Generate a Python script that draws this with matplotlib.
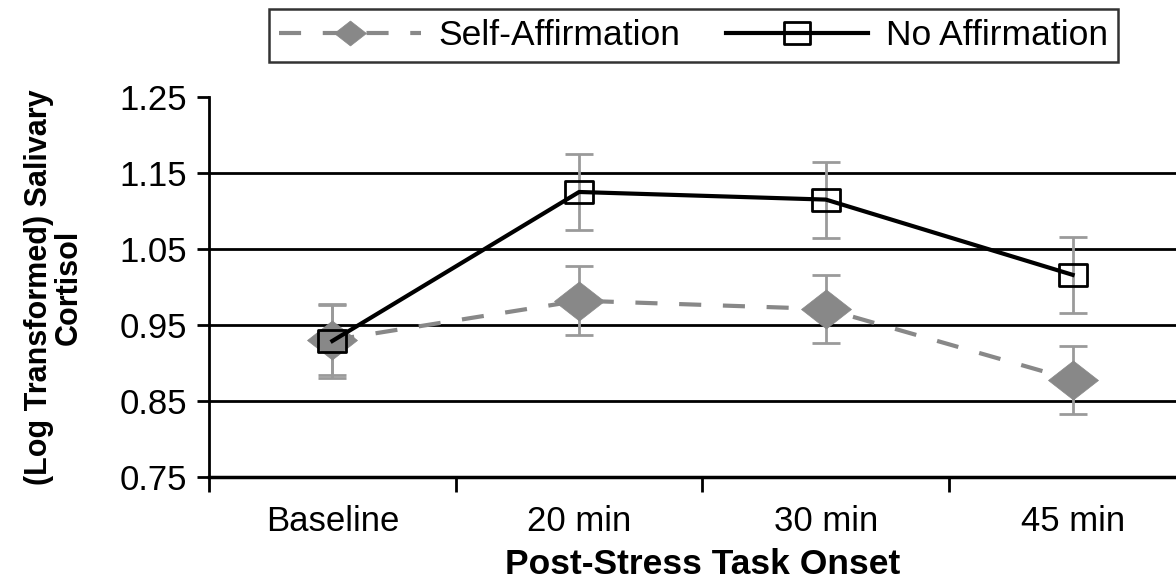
import matplotlib
matplotlib.use("Agg")
import matplotlib.pyplot as plt
import numpy as np
from matplotlib.path import Path

plt.rcParams['font.family'] = ['Liberation Sans', 'DejaVu Sans']

# data
times = ["Baseline", "20 min", "30 min", "45 min"]
self_aff = [0.930, 0.982, 0.971, 0.878]
self_err = [0.046, 0.045, 0.045, 0.045]
no_aff = [0.929, 1.125, 1.115, 1.016]
no_err = [0.049, 0.050, 0.050, 0.050]
yticks = [0.75, 0.85, 0.95, 1.05, 1.15, 1.25]
grid_y = [0.85, 0.95, 1.05, 1.15]

# the original image is a bit wide, so markers are slightly squashed
diamond = Path([(-1, 0), (0, 0.78), (1, 0), (0, -0.78), (-1, 0)],
               [Path.MOVETO, Path.LINETO, Path.LINETO, Path.LINETO, Path.CLOSEPOLY])
box = Path([(-1, -0.8), (1, -0.8), (1, 0.8), (-1, 0.8), (-1, -0.8)],
           [Path.MOVETO, Path.LINETO, Path.LINETO, Path.LINETO, Path.CLOSEPOLY])

fig = plt.figure(figsize=(11.76, 5.86), dpi=100)
ax = fig.add_axes([0.1777, 0.186, 0.8393, 0.6485])

x = np.arange(len(times))

for g in grid_y:
    ax.axhline(g, color="black", lw=2, zorder=1)

ax.errorbar(x, self_aff, yerr=self_err, fmt="none", ecolor="#9a9a9a",
            elinewidth=2, capsize=10, capthick=2, zorder=2)
ax.errorbar(x, no_aff, yerr=no_err, fmt="none", ecolor="#9a9a9a",
            elinewidth=2, capsize=10, capthick=2, zorder=2)

ax.plot(x, self_aff, color="#888888", lw=3, dashes=(5.3, 5.2),
        marker=diamond, markersize=36, markerfacecolor="#888888",
        markeredgecolor="#888888", markeredgewidth=0.5, zorder=3,
        label="Self-Affirmation")
ax.plot(x, no_aff, color="black", lw=3, marker=box, markersize=20,
        markerfacecolor="none", markeredgecolor="black", markeredgewidth=2,
        zorder=4, label="No Affirmation")

ax.set_ylim(0.75, 1.25)
ax.set_yticks(yticks)
ax.set_yticklabels(["%.2f" % v for v in yticks])
ax.set_xlim(-0.5, 3.5)
ax.set_xticks(np.arange(-0.5, 3.6, 1))
ax.set_xticklabels([])
ax.set_xticks(x, minor=True)
ax.set_xticklabels(times, minor=True)

ax.tick_params(axis="y", direction="out", length=9, width=2, pad=7, labelsize=25)
ax.tick_params(axis="x", which="major", direction="out", length=11, width=2)
ax.tick_params(axis="x", which="minor", length=0, pad=20, labelsize=25)

for s in ["top", "right"]:
    ax.spines[s].set_visible(False)
ax.spines["left"].set_linewidth(2)
ax.spines["bottom"].set_linewidth(2.5)

ax.set_xlabel("Post-Stress Task Onset", fontsize=25.5, fontweight="bold", labelpad=7)
ax.set_ylabel("(Log Transformed) Salivary\nCortisol", fontsize=22,
              fontweight="bold", linespacing=1.0)
ax.yaxis.set_label_coords(-0.127, 0.5)

leg = fig.legend(loc="center", bbox_to_anchor=(0.5895, 0.939), ncol=2,
                 fontsize=25.5, frameon=True, fancybox=False, handlelength=4.0,
                 handletextpad=0.5, columnspacing=1.3, borderpad=0.28,
                 edgecolor="black")
leg.get_frame().set_linewidth(1.8)
leg.legend_handles[0].set_markersize(23)
leg.legend_handles[1].set_markersize(19)

fig.savefig("out.png", dpi=100)
